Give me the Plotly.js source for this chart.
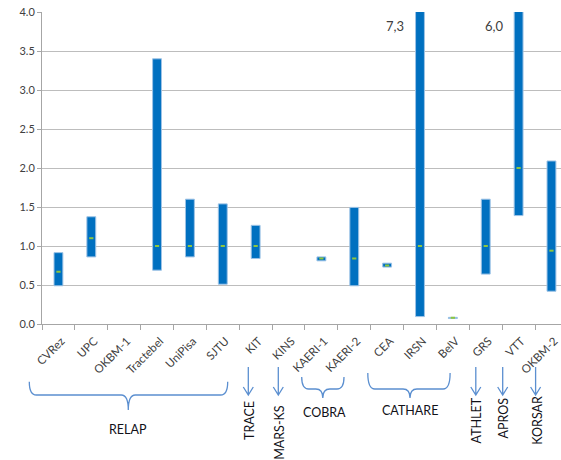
<!DOCTYPE html>
<html><head><meta charset="utf-8">
<script src="https://cdn.plot.ly/plotly-3.0.1.min.js"></script>
<style>html,body{margin:0;padding:0;overflow:hidden;background:#fff}</style>
</head><body><div id="chart" style="width:561px;height:460px"></div>
<script>
// ---- data ----
const categories = ["CVRez","UPC","OKBM-1","Tractebel","UniPisa","SJTU","KIT","KINS","KAERI-1","KAERI-2","CEA","IRSN","BelV","GRS","VTT","OKBM-2"];
const lowValues  = [0.49, 0.86, null, 0.69, 0.86, 0.51, 0.84, null, 0.81, 0.49, 0.73, 0.095, 0.07, 0.64, 1.39, 0.42];
const highValues = [0.915, 1.375, null, 3.40, 1.60, 1.54, 1.265, null, 0.86, 1.495, 0.78, 7.3, 0.085, 1.60, 6.0, 2.09];
const midValues  = [0.67, 1.10, null, 1.0, 1.0, 1.0, 1.0, null, 0.84, 0.84, 0.75, 1.0, 0.08, 1.0, 2.0, 0.94];
const yTickValues = [0, 0.5, 1, 1.5, 2, 2.5, 3, 3.5, 4];
const offScaleLabels = [{cat:"IRSN", text:"7,3"}, {cat:"VTT", text:"6,0"}];
const codeGroups = [
  {name:"RELAP",   kind:"brace", x0:29.3, x1:227.7, xc:128.3, top:381.7, mid:395, tip:410, lx:128.3, ly:429},
  {name:"TRACE",   kind:"arrow", x:248.3, lx:249.3, ly:420.7},
  {name:"MARS-KS", kind:"arrow", x:278.3, lx:279.3, ly:432.5},
  {name:"COBRA",   kind:"brace", x0:301.7, x1:344, xc:322.8, top:377, mid:389, tip:398, lx:324, ly:413},
  {name:"CATHARE", kind:"brace", x0:367.8, x1:450.1, xc:410, top:373, mid:389, tip:398, lx:409.7, ly:410},
  {name:"ATHLET",  kind:"arrow", x:475.8, lx:476.9, ly:420.5},
  {name:"APROS",   kind:"arrow", x:502.7, lx:503.4, ly:418},
  {name:"KORSAR",  kind:"arrow", x:535.6, lx:536.7, ly:420}
];

// ---- layout geometry (pixels) ----
const W = 561, H = 460, L = 42, T = 12, B = 136, R = 0;
const plotW = W - L - R, plotH = H - T - B;
const px = v => (v - L) / plotW;
const py = v => (H - B - v) / plotH;

const heights = highValues.map((h,i) => (h == null || lowValues[i] == null) ? null : h - lowValues[i]);

const traces = [
  {type:"bar", x:categories, y:heights, base:lowValues, width:0.27,
   marker:{color:"#0070C0", line:{color:"#9DC3E6", width:1}}, hoverinfo:"skip"},
  {type:"scatter", mode:"markers", x:categories, y:midValues,
   marker:{symbol:"line-ew", size:3, line:{color:"#8DC63F", width:2}}, hoverinfo:"skip"}
];

const shapes = [], annotations = [];
const blue = "#5B8FD0";
const labelFont = {family:"Lato, sans-serif", size:12.5, color:"#111118"};
function P(x,y){ return px(x).toFixed(5)+","+py(y).toFixed(5); }
codeGroups.forEach(g => {
  if (g.kind === "brace") {
    const r = 7;
    const path = "M"+P(g.x0,g.top)+" Q"+P(g.x0,g.mid)+" "+P(g.x0+r,g.mid)+
      " L"+P(g.xc-r,g.mid)+" Q"+P(g.xc,g.mid)+" "+P(g.xc,g.tip)+
      " Q"+P(g.xc,g.mid)+" "+P(g.xc+r,g.mid)+" L"+P(g.x1-r,g.mid)+
      " Q"+P(g.x1,g.mid)+" "+P(g.x1,g.top);
    shapes.push({type:"path", xref:"paper", yref:"paper", path:path, line:{color:blue, width:1.3}});
    annotations.push({xref:"paper", yref:"paper", x:px(g.lx), y:py(g.ly), text:g.name, showarrow:false,
      xanchor:"center", yanchor:"middle", font:labelFont});
  } else {
    const y0 = 367, y1 = 395;
    const path = "M"+P(g.x,y0)+" L"+P(g.x,y1)+" M"+P(g.x-5,y1-8)+" L"+P(g.x,y1)+" L"+P(g.x+5,y1-8);
    shapes.push({type:"path", xref:"paper", yref:"paper", path:path, line:{color:blue, width:1.3}});
    annotations.push({xref:"paper", yref:"paper", x:px(g.lx), y:py(g.ly), text:g.name, showarrow:false,
      textangle:-90, xanchor:"center", yanchor:"middle", font:labelFont});
  }
});
offScaleLabels.forEach(o => {
  annotations.push({xref:"x", yref:"paper", x:categories.indexOf(o.cat)-0.42, y:py(26), text:o.text,
    showarrow:false, xanchor:"right", yanchor:"middle", font:{family:"Lato, sans-serif", size:13, color:"#404040"}});
});

const layout = {
  width:W, height:H, margin:{l:L, r:R, t:T, b:B, pad:0},
  paper_bgcolor:"#fff", plot_bgcolor:"#fff", showlegend:false, bargap:0,
  font:{family:"Lato, sans-serif", size:11, color:"#404040"},
  xaxis:{type:"category", range:[-0.5, 15.29], tickangle:-45, ticks:"outside", tickson:"boundaries",
    ticklen:5, tickcolor:"#A6A6A6", showline:true, linecolor:"#A6A6A6", linewidth:1, showgrid:false,
    ticklabelshift:3, ticklabelstandoff:5,
    tickfont:{family:"Lato, sans-serif", size:11.5, color:"#404040"}, fixedrange:true},
  yaxis:{range:[0,4], tickvals:yTickValues, tickformat:".1f", ticks:"outside", ticklen:4,
    tickcolor:"#A6A6A6", showline:true, linecolor:"#A6A6A6", linewidth:1, showgrid:true,
    gridcolor:"#BDBDBD", gridwidth:1, zeroline:false,
    tickfont:{family:"Lato, sans-serif", size:11, color:"#404040"}, fixedrange:true},
  shapes:shapes, annotations:annotations
};
Plotly.newPlot("chart", traces, layout, {displayModeBar:false, staticPlot:true});
</script></body></html>
